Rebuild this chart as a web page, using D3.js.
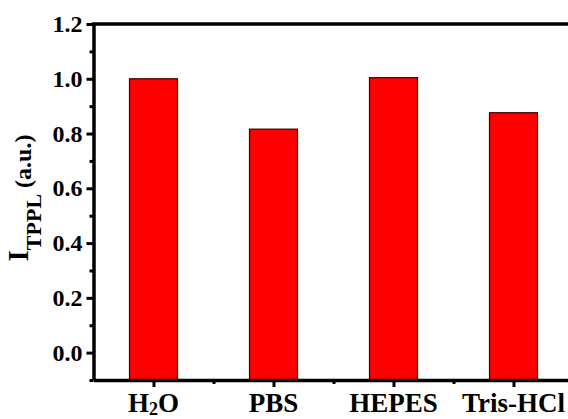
<!DOCTYPE html>
<html>
<head>
<meta charset="utf-8">
<script src="https://cdn.jsdelivr.net/npm/d3@7.9.0/dist/d3.min.js"></script>
<style>
  html, body { margin: 0; padding: 0; background: #fff; }
  svg { display: block; font-family: "Liberation Serif", "Times New Roman", serif; font-weight: bold; }
  .axis path, .axis line { stroke: #000; }
  .axis text { fill: #000; }
</style>
</head>
<body>
<div id="chart"></div>
<script>
// ---------------------------------------------------------
// Data
// ---------------------------------------------------------
const categories = ["H2O", "PBS", "HEPES", "Tris-HCl"];
const values = [1.0, 0.816, 1.004, 0.876];
const yTicks = [0.0, 0.2, 0.4, 0.6, 0.8, 1.0, 1.2];
const yMinorTicks = [-0.1, 0.1, 0.3, 0.5, 0.7, 0.9, 1.1];
const xMinorTicks = [1.5, 2.5, 3.5];

// ---------------------------------------------------------
// Layout
// ---------------------------------------------------------
const width = 568;
const height = 419;
const plotLeft = 93.5, plotTop = 24, plotBottom = 380;

const svg = d3.select("#chart")
  .append("svg")
  .attr("width", width)
  .attr("height", height);

// x: categories at 1..4, frame from 0.5 to 4.5 (right edge falls off the picture)
const xScale = d3.scaleLinear()
  .domain([0.5, 4.5])
  .range([plotLeft, plotLeft + 480]);

const yScale = d3.scaleLinear()
  .domain([-0.1, 1.2])
  .range([plotBottom, plotTop]);

const barW = xScale(1.4) - xScale(1.0);

// --------------------------
// BARS
// --------------------------
svg.append("g")
  .selectAll("rect")
  .data(values)
  .join("rect")
  .attr("x", (d, i) => xScale(i + 1) - barW / 2)
  .attr("y", d => yScale(d))
  .attr("width", barW)
  .attr("height", d => yScale(-0.1) - yScale(d))
  .attr("fill", "#ff0000")
  .attr("stroke", "#3a0000")
  .attr("stroke-width", 1.2);

// --------------------------
// AXES
// --------------------------
const yAxis = svg.append("g")
  .attr("class", "axis")
  .attr("transform", `translate(${plotLeft},0)`)
  .call(d3.axisLeft(yScale)
    .tickValues(yTicks)
    .tickSize(7)
    .tickSizeOuter(0)
    .tickPadding(4)
    .tickFormat(d3.format(".1f")));
yAxis.select(".domain").attr("stroke-width", 3.5);
yAxis.selectAll(".tick line").attr("stroke-width", 3);
yAxis.selectAll(".tick text")
  .attr("font-size", 24)
  .attr("font-family", "Liberation Serif")
  .attr("font-weight", "bold");

const yMinor = svg.append("g")
  .attr("class", "axis")
  .attr("transform", `translate(${plotLeft},0)`)
  .call(d3.axisLeft(yScale).tickValues(yMinorTicks).tickSize(4).tickFormat(""));
yMinor.select(".domain").remove();
yMinor.selectAll(".tick line").attr("stroke-width", 3);

const xAxis = svg.append("g")
  .attr("class", "axis")
  .attr("transform", `translate(0,${plotBottom})`)
  .call(d3.axisBottom(xScale)
    .tickValues([1, 2, 3, 4])
    .tickSize(7)
    .tickSizeOuter(0)
    .tickFormat(""));
xAxis.select(".domain").attr("stroke-width", 3.5);
xAxis.selectAll(".tick line").attr("stroke-width", 3);

const xMinor = svg.append("g")
  .attr("class", "axis")
  .attr("transform", `translate(0,${plotBottom})`)
  .call(d3.axisBottom(xScale).tickValues(xMinorTicks).tickSize(4).tickFormat(""));
xMinor.select(".domain").remove();
xMinor.selectAll(".tick line").attr("stroke-width", 3);

// top frame line
svg.append("line")
  .attr("x1", xScale(0.5) - 1.75)
  .attr("x2", xScale(4.5))
  .attr("y1", yScale(1.2))
  .attr("y2", yScale(1.2))
  .attr("stroke", "#000")
  .attr("stroke-width", 3.5);

// category labels (H2O with subscript)
const xl = svg.append("g")
  .selectAll("text")
  .data(categories)
  .join("text")
  .attr("x", (d, i) => xScale(i + 1))
  .attr("y", 412)
  .attr("text-anchor", "middle")
  .attr("font-size", 27)
  .attr("fill", "#000");

xl.each(function(d) {
  const t = d3.select(this);
  if (d === "H2O") {
    t.append("tspan").text("H");
    t.append("tspan").text("2").attr("font-size", 18).attr("dy", 3);
    t.append("tspan").text("O").attr("dy", -3);
  } else {
    t.text(d);
  }
});

// y axis title
const yt = svg.append("text")
  .attr("transform", `translate(28,198) rotate(-90)`)
  .attr("text-anchor", "middle")
  .attr("fill", "#000");
yt.append("tspan").text("I").attr("font-size", 29);
yt.append("tspan").text("TPPL").attr("font-size", 22).attr("dy", 13);
yt.append("tspan").text("  (a.u.)").attr("font-size", 24).attr("dy", -10);
</script>
</body>
</html>
